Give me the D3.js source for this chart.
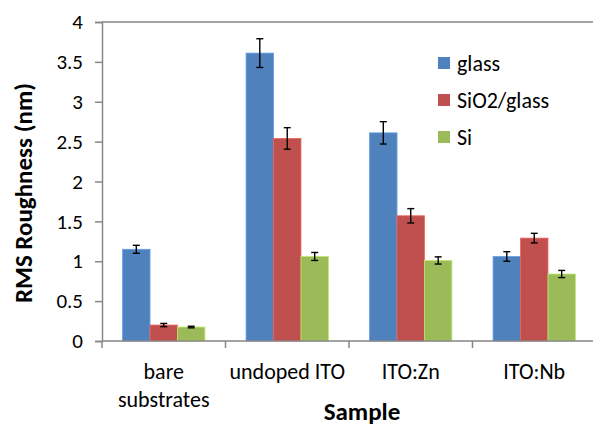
<!DOCTYPE html>
<html>
<head>
<meta charset="utf-8">
<script src="https://cdn.jsdelivr.net/npm/d3@7"></script>
<style>
  body { margin: 0; background: #fff; }
  text { font-family: Carlito, Lato, "Open Sans", sans-serif; }
</style>
</head>
<body>
<div id="drawArea"></div>
<script>
// data
var categories = [["bare", "substrates"], ["undoped ITO"], ["ITO:Zn"], ["ITO:Nb"]];
var seriesNames = ["glass", "SiO2/glass", "Si"];
var seriesColors = ["#4F81BD", "#C0504D", "#9BBB59"];
var glassValues = [1.15, 3.61, 2.61, 1.06];
var sio2Values = [0.20, 2.54, 1.57, 1.29];
var siValues = [0.175, 1.06, 1.01, 0.84];
var glassErrors = [0.05, 0.18, 0.14, 0.06];
var sio2Errors = [0.02, 0.135, 0.09, 0.06];
var siErrors = [0.01, 0.05, 0.045, 0.045];
var yTicks = [0, 0.5, 1, 1.5, 2, 2.5, 3, 3.5, 4];

var values = [glassValues, sio2Values, siValues];
var errors = [glassErrors, sio2Errors, siErrors];

var svg_width = 593, svg_height = 428;
var plotLeft = 102, plotRight = 596, plotTop = 22, plotBottom = 341;
var axisColor = '#868686';

var svg = d3.select('#drawArea').append('svg')
  .attr('width', svg_width)
  .attr('height', svg_height);

var x = d3.scaleBand()
  .domain(d3.range(categories.length))
  .range([plotLeft, plotRight]);

var x1 = d3.scaleBand()
  .domain(d3.range(seriesNames.length))
  .range([0, x.bandwidth()])
  .paddingOuter(0.75)
  .paddingInner(0);

var y = d3.scaleLinear().domain([0, 4]).range([plotBottom, plotTop]);

// top border line
svg.append('line')
  .attr('x1', plotLeft).attr('x2', plotRight)
  .attr('y1', y(4)).attr('y2', y(4))
  .attr('stroke', axisColor).attr('stroke-width', 1.5);

// bars
for (var s = 0; s < seriesNames.length; s++) {
  svg.append('g')
    .selectAll('rect')
    .data(values[s])
    .join('rect')
      .attr('x', function(d, i) { return x(i) + x1(s); })
      .attr('y', function(d) { return y(d); })
      .attr('width', x1.bandwidth())
      .attr('height', function(d) { return y(0) - y(d); })
      .attr('fill', seriesColors[s])
      .attr('stroke', d3.color(seriesColors[s]).brighter(0.6))
      .attr('stroke-width', 0.8);
}

// error bars
for (var s = 0; s < seriesNames.length; s++) {
  var g = svg.append('g').attr('stroke', '#000').attr('stroke-width', 1.4);
  values[s].forEach(function(v, i) {
    var cx = x(i) + x1(s) + x1.bandwidth() / 2;
    var e = errors[s][i];
    g.append('line').attr('x1', cx).attr('x2', cx).attr('y1', y(v - e)).attr('y2', y(v + e));
    g.append('line').attr('x1', cx - 3.5).attr('x2', cx + 3.5).attr('y1', y(v - e)).attr('y2', y(v - e));
    g.append('line').attr('x1', cx - 3.5).attr('x2', cx + 3.5).attr('y1', y(v + e)).attr('y2', y(v + e));
  });
}

// y axis
var yAxis = svg.append('g')
  .attr('transform', 'translate(' + plotLeft + ',0)')
  .call(d3.axisLeft(y).tickValues(yTicks).tickSize(7).tickPadding(12).tickFormat(d3.format('')));
yAxis.select('.domain').attr('stroke', axisColor).attr('stroke-width', 1.5);
yAxis.selectAll('.tick line').attr('stroke', axisColor).attr('stroke-width', 1.5);
yAxis.selectAll('.tick text')
  .attr('font-size', 21).attr('fill', '#000')
  .style('font-family', 'Carlito, Lato, "Open Sans", sans-serif');

// x axis
var xBound = d3.scaleLinear().domain([0, categories.length]).range([plotLeft, plotRight]);
svg.append('line')
  .attr('x1', plotLeft).attr('x2', plotRight)
  .attr('y1', plotBottom).attr('y2', plotBottom)
  .attr('stroke', axisColor).attr('stroke-width', 1.5);
svg.append('g')
  .selectAll('line')
  .data(d3.range(categories.length + 1))
  .join('line')
    .attr('x1', function(d) { return xBound(d); })
    .attr('x2', function(d) { return xBound(d); })
    .attr('y1', plotBottom).attr('y2', plotBottom + 7)
    .attr('stroke', axisColor).attr('stroke-width', 1.5);

svg.append('g')
  .selectAll('text')
  .data(categories)
  .join('text')
    .attr('x', function(d, i) { return x(i) + x.bandwidth() / 2; })
    .attr('y', 379)
    .attr('text-anchor', 'middle')
    .attr('font-size', 22)
    .attr('fill', '#000')
    .each(function(d) {
      var t = d3.select(this);
      d.forEach(function(line, k) {
        t.append('tspan')
          .attr('x', t.attr('x'))
          .attr('dy', k === 0 ? 0 : 28)
          .text(line);
      });
    });

// axis titles
svg.append('text')
  .attr('transform', 'translate(32,193) rotate(-90)')
  .attr('text-anchor', 'middle')
  .attr('font-size', 25)
  .attr('font-weight', 'bold')
  .attr('fill', '#000')
  .text('RMS Roughness (nm)');

svg.append('text')
  .attr('x', 362)
  .attr('y', 420)
  .attr('text-anchor', 'middle')
  .attr('font-size', 25)
  .attr('font-weight', 'bold')
  .attr('fill', '#000')
  .text('Sample');

// legend
var legend = svg.append('g')
  .selectAll('g')
  .data(seriesNames)
  .join('g')
    .attr('transform', function(d, i) { return 'translate(438,' + (63 + i * 37) + ')'; });
legend.append('rect')
  .attr('x', 0).attr('y', -6)
  .attr('width', 12).attr('height', 12)
  .attr('fill', function(d, i) { return seriesColors[i]; });
legend.append('text')
  .attr('x', 19).attr('y', 8)
  .attr('font-size', 22)
  .attr('fill', '#000')
  .text(function(d) { return d; });
</script>
</body>
</html>
